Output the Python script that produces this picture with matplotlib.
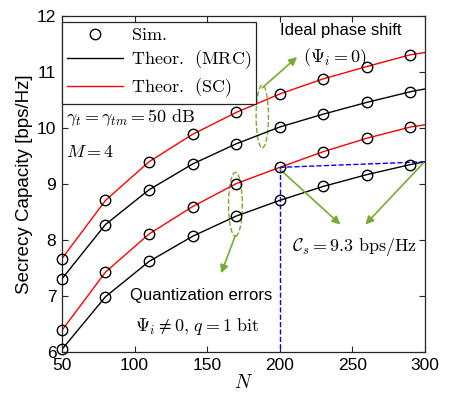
import numpy as np
import matplotlib
matplotlib.use("Agg")
import matplotlib.pyplot as plt
from matplotlib.patches import Ellipse

plt.rcParams['font.family'] = ['Liberation Sans', 'DejaVu Sans']
plt.rcParams['mathtext.fontset'] = 'cm'

# number of RIS elements
N_sim = [50, 80, 110, 140, 170, 200, 230, 260, 290]
N_th = [50, 80, 110, 140, 170, 200, 230, 260, 290, 300]

# ideal phase shift
sc_ideal = [7.67, 8.71, 9.40, 9.89, 10.28, 10.61, 10.88, 11.10, 11.31, 11.35]
mrc_ideal = [7.31, 8.28, 8.90, 9.36, 9.72, 10.02, 10.25, 10.46, 10.65, 10.70]
# quantization errors, q = 1 bit
sc_quant = [6.39, 7.43, 8.11, 8.60, 9.01, 9.30, 9.58, 9.82, 10.02, 10.06]
mrc_quant = [6.05, 6.99, 7.62, 8.07, 8.43, 8.71, 8.96, 9.17, 9.35, 9.40]

green = '#77AC30'

fig = plt.figure(figsize=(4.52, 4.03), dpi=100)
ax = fig.add_axes([0.137, 0.126, 0.803, 0.834])

for ys, c in [(sc_ideal, 'r'), (mrc_ideal, 'k'), (sc_quant, 'r'), (mrc_quant, 'k')]:
    ax.plot(N_th, ys, color=c, lw=1.0)
for ys in [sc_ideal, mrc_ideal, sc_quant, mrc_quant]:
    ax.plot(N_sim, ys[:len(N_sim)], 'o', mfc='none', mec='k', ms=7.5, mew=1.0,
            clip_on=False, zorder=5)

# legend handles
h_sim, = ax.plot([], [], 'o', mfc='none', mec='k', ms=7.5, mew=1.0)
h_mrc, = ax.plot([], [], 'k-', lw=1.0)
h_sc, = ax.plot([], [], 'r-', lw=1.0)
leg = ax.legend([h_sim, h_mrc, h_sc],
                [r'$\mathrm{Sim.}$', r'$\mathrm{Theor.\ \,(MRC)}$', r'$\mathrm{Theor.\ \,(SC)}$'],
                loc='upper left', bbox_to_anchor=(0.0, 0.983), borderaxespad=0,
                fontsize=13, fancybox=False, framealpha=1, edgecolor='#262626',
                handlelength=3.1, labelspacing=0.25, borderpad=0.3, handletextpad=0.4)
leg.get_frame().set_linewidth(0.9)
leg.set_zorder(10)

# blue dashed guide
ax.plot([200, 200], [sc_quant[5], 6.0], '--', color='b', lw=1.0, clip_on=False)
ax.plot([200, 300], [sc_quant[5], mrc_quant[-1]], '--', color='b', lw=1.0)

# ellipses
ax.add_patch(Ellipse((188, 10.21), 8.5, 1.12, fill=False, ec=green, ls='--', lw=1.0))
ax.add_patch(Ellipse((169.5, 8.64), 9.5, 1.14, fill=False, ec=green, ls='--', lw=1.0))

arrow = dict(arrowstyle='-|>', color=green, lw=1.2, mutation_scale=12, shrinkA=0, shrinkB=0)
ax.annotate('', xy=(212, 11.27), xytext=(188, 10.72), arrowprops=arrow)
ax.annotate('', xy=(159.7, 7.41), xytext=(169.4, 8.08), arrowprops=arrow)
ax.annotate('', xy=(241.8, 8.28), xytext=(200.4, 9.26), arrowprops=arrow)
ax.annotate('', xy=(259, 8.28), xytext=(299, 9.38), arrowprops=arrow)

# texts
ax.text(200.4, 11.75, 'Ideal phase shift', fontsize=12, va='center', ha='left')
ax.text(216, 11.25, r'$(\Psi_i=0)$', fontsize=13, va='center', ha='left')
ax.text(52.8, 10.18, r'$\gamma_t=\gamma_{tm}=50\ \mathrm{dB}$', fontsize=13, va='center', ha='left')
ax.text(52.8, 9.56, r'$M=4$', fontsize=13, va='center', ha='left')
ax.text(97, 7.02, 'Quantization errors', fontsize=12, va='center', ha='left')
ax.text(100.4, 6.46, r'$\Psi_i\neq 0,\, q=1\ \mathrm{bit}$', fontsize=13, va='center', ha='left')
ax.text(208.7, 7.87, r'$\mathcal{C}_s=9.3\ \mathrm{bps/Hz}$', fontsize=13, va='center', ha='left')

ax.set_xlim(50, 300)
ax.set_ylim(6, 12)
ax.set_xticks([50, 100, 150, 200, 250, 300])
ax.set_yticks([6, 7, 8, 9, 10, 11, 12])
ax.tick_params(direction='in', top=True, right=True, labelsize=12.5, length=4,
               color='#262626', pad=4)
for s in ax.spines.values():
    s.set_color('#262626')
    s.set_linewidth(0.9)
ax.set_xlabel(r'$N$', fontsize=14, labelpad=1)
ax.set_ylabel('Secrecy Capacity [bps/Hz]', fontsize=13.5, labelpad=3)

fig.savefig('out.png', dpi=100)
